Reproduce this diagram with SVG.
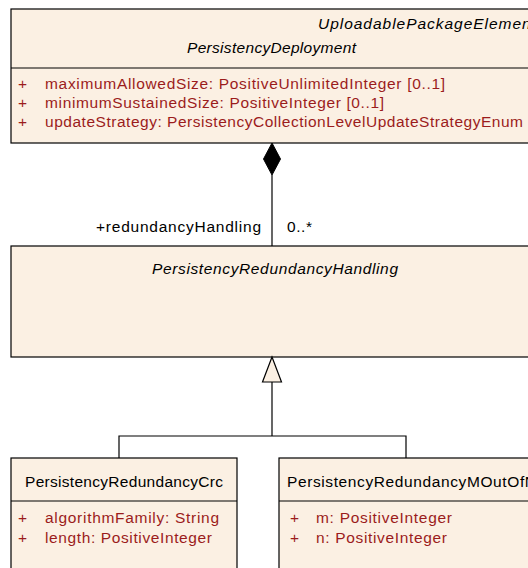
<svg xmlns="http://www.w3.org/2000/svg" width="528" height="568" viewBox="0 0 528 568">
<style>
.box{fill:#fbf0e3;stroke:#000;stroke-width:1.2}
.sep{stroke:#000;stroke-width:1.2}
text{font-family:"Liberation Sans",Arial,sans-serif;font-size:15.5px}
.t{fill:#000}
.it{font-style:italic}
.a{fill:#9b1c1c}
.ln{fill:none;stroke:#000;stroke-width:1.2}
</style>
<rect width="528" height="568" fill="#fff"/>
<g id="PersistencyDeployment">
<rect class="box" x="11" y="9" width="530" height="134"/>
<line class="sep" x1="11" y1="68" x2="541" y2="68"/>
<text class="t it" x="318" y="29" textLength="218" lengthAdjust="spacing">UploadablePackageElement</text>
<text class="t it" x="187" y="53" textLength="169" lengthAdjust="spacing">PersistencyDeployment</text>
<text class="a" x="18" y="89">+</text>
<text class="a" x="45" y="89" textLength="400" lengthAdjust="spacing">maximumAllowedSize: PositiveUnlimitedInteger [0..1]</text>
<text class="a" x="18" y="108">+</text>
<text class="a" x="45" y="108" textLength="339" lengthAdjust="spacing">minimumSustainedSize: PositiveInteger [0..1]</text>
<text class="a" x="18" y="127">+</text>
<text class="a" x="45" y="127" textLength="478" lengthAdjust="spacing">updateStrategy: PersistencyCollectionLevelUpdateStrategyEnum</text>
</g>
<g id="PersistencyRedundancyHandling">
<rect class="box" x="11" y="246" width="530" height="111"/>
<text class="t it" x="152" y="274" textLength="246" lengthAdjust="spacing">PersistencyRedundancyHandling</text>
</g>
<g id="PersistencyRedundancyCrc">
<rect class="box" x="11" y="458" width="226" height="120"/>
<line class="sep" x1="11" y1="501" x2="237" y2="501"/>
<text class="t" x="25" y="487" textLength="198" lengthAdjust="spacing">PersistencyRedundancyCrc</text>
<text class="a" x="18" y="523">+</text>
<text class="a" x="45" y="523" textLength="174" lengthAdjust="spacing">algorithmFamily: String</text>
<text class="a" x="18" y="543">+</text>
<text class="a" x="45" y="543" textLength="167" lengthAdjust="spacing">length: PositiveInteger</text>
</g>
<g id="PersistencyRedundancyMOutOfN">
<rect class="box" x="279" y="458" width="262" height="120"/>
<line class="sep" x1="279" y1="501" x2="541" y2="501"/>
<text class="t" x="287" y="487" textLength="249" lengthAdjust="spacing">PersistencyRedundancyMOutOfN</text>
<text class="a" x="290" y="523">+</text>
<text class="a" x="316" y="523" textLength="136" lengthAdjust="spacing">m: PositiveInteger</text>
<text class="a" x="290" y="543">+</text>
<text class="a" x="316" y="543" textLength="131" lengthAdjust="spacing">n: PositiveInteger</text>
</g>
<g id="connectors">
<line class="ln" x1="272" y1="175" x2="272" y2="246"/>
<polygon points="272,143 280.5,159 272,175 263.5,159" fill="#000" stroke="#000" stroke-width="1"/>
<text class="t" x="96" y="232" textLength="165" lengthAdjust="spacing">+redundancyHandling</text>
<text class="t" x="287" y="232" textLength="25" lengthAdjust="spacing">0..*</text>
<polyline class="ln" points="119,458 119,436 406,436 406,458"/>
<line class="ln" x1="272" y1="382" x2="272" y2="436"/>
<polygon points="272,357 281.5,382 262.5,382" fill="#fbf0e3" stroke="#000" stroke-width="1.2"/>
</g>
</svg>
